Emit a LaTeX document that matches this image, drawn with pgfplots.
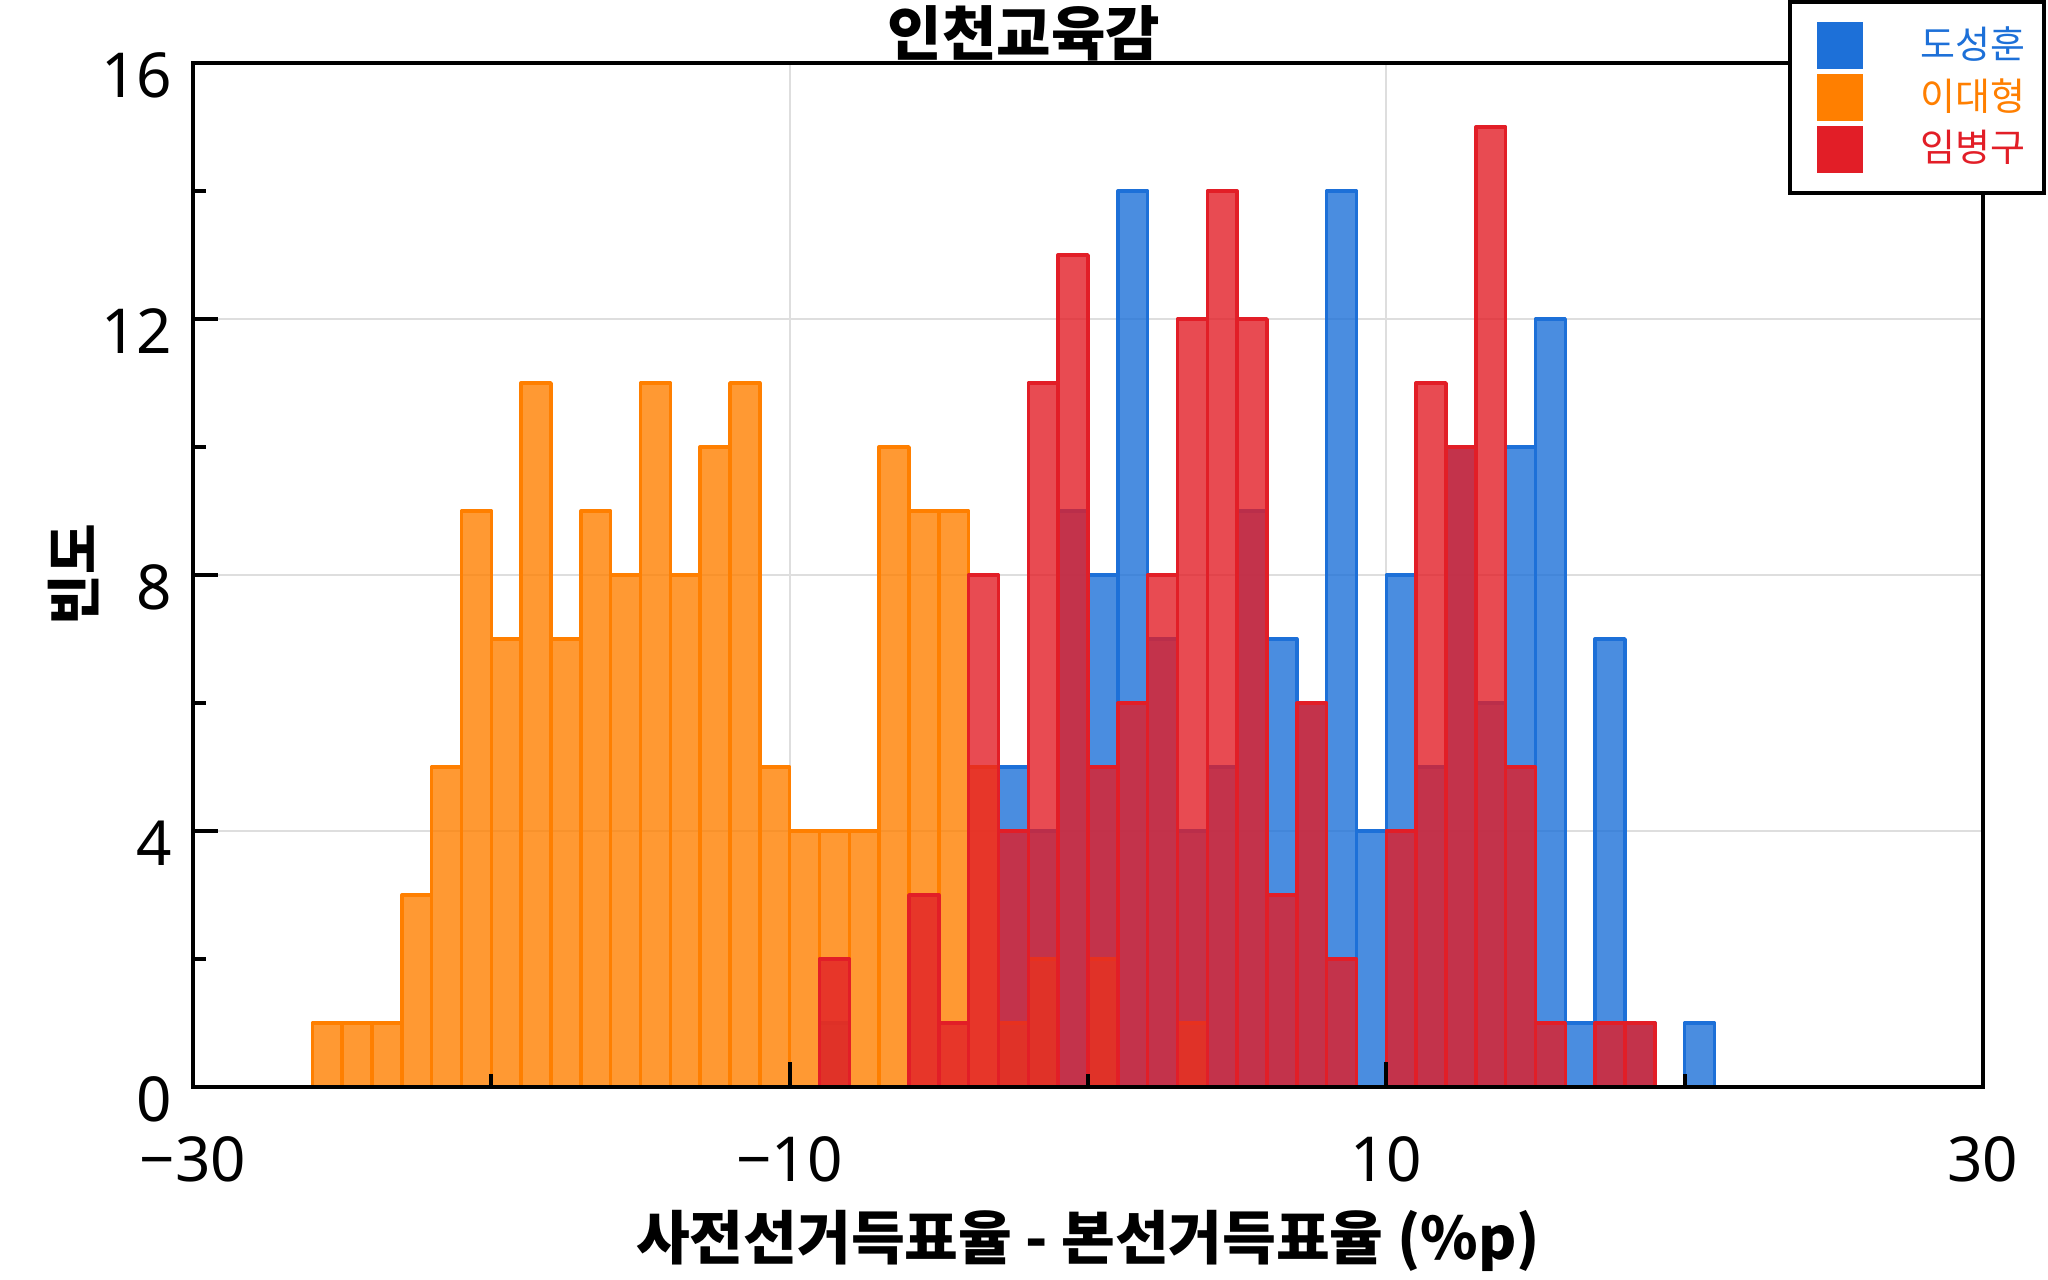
\documentclass[border=0pt]{standalone}
\usepackage{fontspec}
\setmainfont{Noto Sans}
\newfontfamily\kr{Noto Sans CJK KR}
\usepackage{pgfplots}
\pgfplotsset{compat=1.18}
\definecolor{cblue}{HTML}{1D70D8}
\definecolor{corange}{HTML}{FF7F00}
\definecolor{cred}{HTML}{E21E27}
\pgfplotsset{
  common/.style={
    at={(48.25pt,48.25pt)}, anchor=south west,
    scale only axis, width=447.5pt, height=256pt,
    xmin=-30, xmax=30, ymin=0, ymax=16,
    xtick={-30,-10,10,30}, minor xtick={-20,0,20},
    ytick={0,4,8,12,16}, minor ytick={2,6,10,14},
    xtick pos=bottom, ytick pos=left, tick align=inside,
    axis line style={line width=1pt},
  }
}
\begin{document}
\begin{tikzpicture}
% axis 1: grid, bars, labels
\begin{axis}[
  common,
  xticklabels={−30,−10,10,30},
  yticklabels={0,4,8,12,16},
  major tick length=0pt, minor tick length=0pt,
  xmajorgrids, ymajorgrids,
  major grid style={color=black!13, line width=0.5pt},
  ticklabel style={font=\fontsize{15.5}{18}\selectfont},
  xticklabel style={anchor=north, inner sep=0pt, yshift=-12.25pt},
  yticklabel style={anchor=east, inner sep=0pt, xshift=-5pt, yshift=-3pt},
  every axis title shift=0pt,
  title={인천교육감},
  title style={font=\kr\bfseries\fontsize{14.8}{17}\selectfont, at={(axis description cs:0.4643,1)}, anchor=south, inner sep=0pt, yshift=0.3pt},
  xlabel={사전선거득표율 - 본선거득표율 (\%p)},
  xlabel style={font=\kr\bfseries\fontsize{14.6}{17}\selectfont, at={(axis description cs:0.5,0)}, anchor=north, inner sep=0pt, yshift=-30.5pt},
  ylabel={빈도},
  ylabel style={font=\kr\bfseries\fontsize{13.75}{16}\selectfont, at={(axis description cs:-0.067,0.5)}, anchor=center, inner sep=0pt},
]
\addplot[ybar, bar width=1, bar shift=0pt, draw=cblue, fill=cblue, fill opacity=0.8, line width=0.9pt, line join=round]
coordinates {
(-8.5,1) (-2.5,5) (-1.5,4) (-0.5,9) (0.5,8) (1.5,14) (2.5,7) (3.5,4) (4.5,5) (5.5,9)
(6.5,7) (7.5,6) (8.5,14) (9.5,4) (10.5,8) (11.5,5) (12.5,10) (13.5,6) (14.5,10) (15.5,12)
(16.5,1) (17.5,7) (18.5,1) (20.5,1)
};
\addplot[ybar, bar width=1, bar shift=0pt, draw=corange, fill=corange, fill opacity=0.8, line width=0.9pt, line join=round]
coordinates {
(-25.5,1) (-24.5,1) (-23.5,1) (-22.5,3) (-21.5,5) (-20.5,9) (-19.5,7) (-18.5,11) (-17.5,7)
(-16.5,9) (-15.5,8) (-14.5,11) (-13.5,8) (-12.5,10) (-11.5,11) (-10.5,5) (-9.5,4) (-8.5,4)
(-7.5,4) (-6.5,10) (-5.5,9) (-4.5,9) (-3.5,5) (-2.5,1) (-1.5,2) (0.5,2) (3.5,1)
};
\addplot[ybar, bar width=1, bar shift=0pt, draw=cred, fill=cred, fill opacity=0.8, line width=0.9pt, line join=round]
coordinates {
(-8.5,2) (-5.5,3) (-4.5,1) (-3.5,8) (-2.5,4) (-1.5,11) (-0.5,13) (0.5,5) (1.5,6) (2.5,8)
(3.5,12) (4.5,14) (5.5,12) (6.5,3) (7.5,6) (8.5,2) (10.5,4) (11.5,11) (12.5,10) (13.5,15)
(14.5,5) (15.5,1) (17.5,1) (18.5,1)
};
\end{axis}
% axis 2: frame, ticks on top, legend
\begin{axis}[
  common,
  xticklabels={,,,}, yticklabels={,,,,},
  major tick length=6.25pt, minor tick length=3.25pt,
  every tick/.style={black, line width=1pt},
  legend style={at={(1.0352,1.0615)}, anchor=north east, draw=black, line width=1pt, fill=white,
    inner xsep=4.6pt, inner ysep=5pt, row sep=1.2pt, column sep=14.5pt,
    font=\kr\fontsize{9.5}{11}\selectfont, nodes={inner sep=0pt}},
  legend cell align=left,
]
\addlegendimage{legend image code/.code={\path (0pt,0pt); \fill[cblue] (2pt,-5.375pt) rectangle (12.5pt,5.375pt);}}
\addlegendentry{\textcolor{cblue}{도성훈}}
\addlegendimage{legend image code/.code={\path (0pt,0pt); \fill[corange] (2pt,-5.375pt) rectangle (12.5pt,5.375pt);}}
\addlegendentry{\textcolor{corange}{이대형}}
\addlegendimage{legend image code/.code={\path (0pt,0pt); \fill[cred] (2pt,-5.375pt) rectangle (12.5pt,5.375pt);}}
\addlegendentry{\textcolor{cred}{임병구}}
\end{axis}
\pgfresetboundingbox
\path (0pt,0pt) rectangle (512pt,320pt);
\end{tikzpicture}
\end{document}
